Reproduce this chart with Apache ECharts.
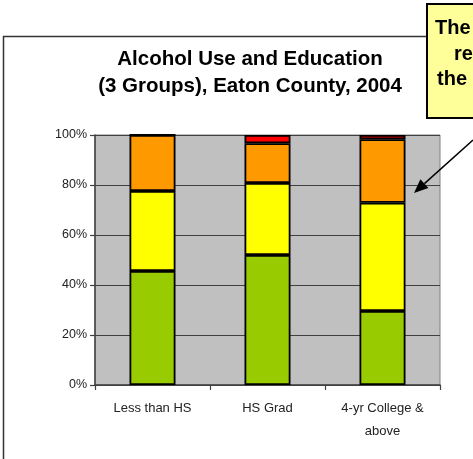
<!DOCTYPE html>
<html>
<head>
<meta charset="utf-8">
<script src="https://cdn.jsdelivr.net/npm/echarts@6/dist/echarts.min.js"></script>
<style>
html,body{margin:0;padding:0;background:#fff;}
#chart{width:473px;height:459px;}
</style>
</head>
<body>
<div id="chart"></div>
<script>
var categories = ['Less than HS', 'HS Grad', '4-yr College &\nabove'];
var greenValues = [45.6, 52.0, 29.6];
var yellowValues = [32.0, 28.8, 43.3];
var orangeValues = [22.4, 15.9, 25.4];
var redValues = [0, 3.3, 1.7];
var titleLines = ['Alcohol Use and Education', '(3 Groups), Eaton County, 2004'];
var calloutLines = ['The', 're', 'the'];

var chart = echarts.init(document.getElementById('chart'), null, {renderer: 'canvas'});
var FONT = '"Liberation Sans", Arial, sans-serif';

function seriesOf(name, data, color) {
  return {
    name: name, type: 'bar', stack: 'total', data: data,
    barWidth: 46,
    itemStyle: {color: color, borderColor: '#000', borderWidth: 1.8},
    emphasis: {disabled: true}
  };
}

// arrow head
var tail = [473, 140], tip = [414, 193];
var dx = tip[0] - tail[0], dy = tip[1] - tail[1];
var len = Math.sqrt(dx * dx + dy * dy);
var ux = dx / len, uy = dy / len;
var hl = 14, hw = 6;
var bx = tip[0] - hl * ux, by = tip[1] - hl * uy;
var head = [[tip[0], tip[1]], [bx - hw * uy, by + hw * ux], [bx + hw * uy, by - hw * ux]];

var graphics = [
  {type: 'rect', z: -10, silent: true, shape: {x: 3.5, y: 36.5, width: 700, height: 700},
   style: {fill: 'none', stroke: '#333', lineWidth: 1.5}},
  {type: 'text', z: 10, x: 250, y: 59, style: {text: titleLines[0], font: 'bold 20.5px ' + FONT, fill: '#000', align: 'center', verticalAlign: 'middle'}},
  {type: 'text', z: 10, x: 250, y: 86, style: {text: titleLines[1], font: 'bold 20.5px ' + FONT, fill: '#000', align: 'center', verticalAlign: 'middle'}},
  {type: 'rect', z: 20, shape: {x: 427, y: 4, width: 200, height: 114},
   style: {fill: '#FFFF99', stroke: '#000', lineWidth: 2}},
  {type: 'text', z: 21, x: 435, y: 28, style: {text: calloutLines[0], font: 'bold 20px ' + FONT, fill: '#000', align: 'left', verticalAlign: 'middle'}},
  {type: 'text', z: 21, x: 454, y: 54, style: {text: calloutLines[1], font: 'bold 20px ' + FONT, fill: '#000', align: 'left', verticalAlign: 'middle'}},
  {type: 'text', z: 21, x: 437, y: 79, style: {text: calloutLines[2], font: 'bold 20px ' + FONT, fill: '#000', align: 'left', verticalAlign: 'middle'}},
  {type: 'line', z: 30, shape: {x1: tail[0], y1: tail[1], x2: bx, y2: by},
   style: {stroke: '#000', lineWidth: 1.5}},
  {type: 'polygon', z: 30, shape: {points: head}, style: {fill: '#000'}}
];

chart.setOption({
  animation: false,
  backgroundColor: '#fff',
  grid: {left: 95, top: 135, right: 33, bottom: 74, show: true,
         backgroundColor: '#C0C0C0', borderColor: '#808080', borderWidth: 1},
  xAxis: {
    type: 'category', data: categories,
    axisLine: {show: true, lineStyle: {color: '#404040', width: 1.5}},
    axisTick: {show: true, alignWithLabel: false, length: 5, lineStyle: {color: '#404040', width: 1.2}},
    axisLabel: {fontFamily: FONT, fontSize: 13, color: '#222', margin: 12, lineHeight: 23, interval: 0}
  },
  yAxis: {
    type: 'value', min: 0, max: 100, interval: 20,
    axisLine: {show: true, lineStyle: {color: '#404040', width: 1.5}},
    axisTick: {show: true, length: 5, lineStyle: {color: '#404040', width: 1.2}},
    axisLabel: {fontFamily: FONT, fontSize: 12.5, color: '#222', margin: 8, formatter: '{value}%', padding: [5, 0, 0, 0]},
    splitLine: {show: true, lineStyle: {color: '#404040', width: 1}}
  },
  series: [
    seriesOf('Green', greenValues, '#99CC00'),
    seriesOf('Yellow', yellowValues, '#FFFF00'),
    seriesOf('Orange', orangeValues, '#FF9900'),
    seriesOf('Red', redValues, '#FF0000')
  ],
  graphic: graphics
});
</script>
</body>
</html>
